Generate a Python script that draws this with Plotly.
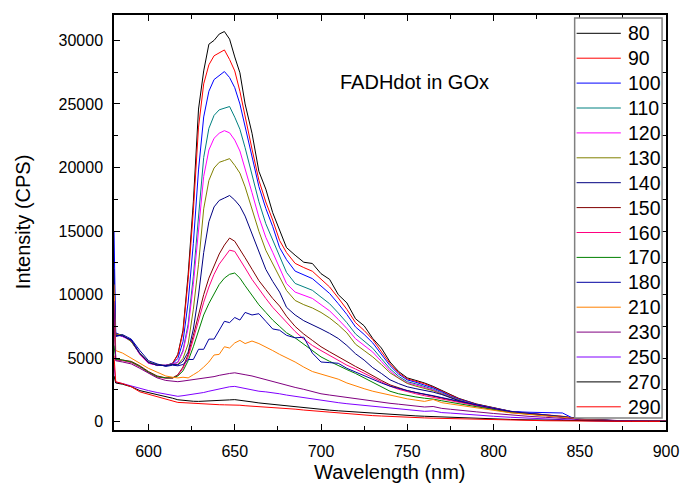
import plotly.graph_objects as go

# Emission wavelength grid (nm)
wl = [580, 581, 585, 590, 595, 600, 605, 610, 614, 617,
      620, 623, 626, 629, 632, 635, 638, 641, 644, 647,
      650, 653, 656, 660, 664, 668, 672, 676, 680, 685,
      690, 695, 700, 705, 710, 715, 720, 725, 730, 735,
      740, 745, 750, 755, 760, 765, 770, 775, 780, 790,
      800, 810, 820, 830, 840, 845, 850, 860, 870, 880,
      890, 900]

# Intensity (CPS) for each series
I_80 = [7600, 6950, 6800, 6350, 5350, 4650, 4450, 4420, 4600, 5300,
        7200, 11600, 17300, 24600, 27600, 29700, 30000, 30500, 30700, 30100,
        28700, 27450, 25000, 22700, 19700, 18300, 16450, 15000, 13700, 13100,
        12550, 12450, 11650, 11200, 10000, 9350, 8100, 7550, 6550, 5800,
        4700, 3950, 3450, 3250, 3050, 2780, 2450, 2100, 1830, 1400,
        1100, 820, 680, 560, 430, 330, 200, 130, 100, 80,
        60, 50]
I_90 = [7400, 6900, 6750, 6400, 5300, 4600, 4480, 4400, 4590, 5250,
        7050, 11200, 16600, 23180, 26580, 28080, 28790, 29020, 29250, 28500,
        27600, 25990, 24000, 21450, 19000, 17290, 15870, 14260, 13310, 12460,
        12130, 11840, 11220, 10600, 9740, 8840, 7800, 7180, 6460, 5520,
        4570, 3850, 3370, 3180, 2990, 2720, 2400, 2070, 1800, 1380,
        1090, 810, 670, 560, 430, 330, 200, 120, 90, 70,
        50, 40]
I_100 = [15000, 7000, 6700, 6450, 5400, 4700, 4420, 4450, 4560, 4980,
         6300, 9420, 14040, 19810, 23980, 26000, 26920, 27270, 27550, 27080,
         26280, 25000, 23280, 20850, 18500, 16780, 15360, 13700, 12750, 11850,
         11540, 11260, 10680, 10090, 9290, 8440, 7460, 6870, 6200, 5310,
         4410, 3740, 3290, 3100, 2910, 2660, 2360, 2030, 1770, 1360,
         1080, 810, 750, 700, 690, 350, 180, 120, 90, 70,
         60, 40]
I_110 = [7500, 6850, 6800, 6300, 5350, 4650, 4500, 4400, 4540, 4680,
         5620, 7680, 11450, 16230, 20790, 23080, 24100, 24540, 24650, 24800,
         23960, 23010, 21560, 19420, 17310, 15580, 14290, 13020, 11750, 10880,
         10590, 10340, 9810, 9280, 8560, 7790, 6910, 6380, 5780, 4970,
         4170, 3570, 3150, 2980, 2800, 2560, 2270, 1970, 1720, 1330,
         1060, 790, 660, 540, 420, 310, 190, 120, 90, 70,
         50, 40]
I_120 = [7800, 6900, 6700, 6350, 5300, 4600, 4450, 4450, 4540, 4660,
         5520, 7380, 10810, 15160, 19300, 21380, 22300, 22700, 22900, 22730,
         22160, 21300, 19970, 18020, 16090, 14510, 13330, 12160, 10870, 10200,
         9940, 9700, 9210, 8720, 8050, 7340, 6530, 6040, 5480, 4740,
         4000, 3440, 3060, 2890, 2720, 2500, 2220, 1930, 1690, 1310,
         1040, 785, 650, 540, 415, 310, 190, 120, 90, 70,
         50, 40]
I_130 = [7400, 6900, 6800, 6300, 5400, 4700, 4480, 4430, 4520, 4510,
         4980, 6120, 8850, 12390, 16750, 18980, 19960, 20410, 20550, 20700,
         20170, 19560, 18480, 16740, 14980, 13490, 12410, 11380, 10330, 9540,
         9210, 8950, 8600, 8160, 7620, 6990, 6100, 5600, 5100, 4500,
         3850, 3420, 3010, 2800, 2640, 2440, 2180, 1910, 1680, 1300,
         1030, 780, 640, 530, 410, 300, 190, 120, 85, 65,
         50, 40]
I_140 = [7600, 6800, 6750, 6400, 5350, 4650, 4450, 4420, 4500, 4480,
         4760, 5480, 7290, 9970, 13310, 15740, 16900, 17410, 17600, 17800,
         17440, 16960, 16180, 14800, 13330, 11990, 11040, 10200, 9000, 8400,
         7950, 7650, 7300, 6950, 6550, 6000, 5350, 4850, 4250, 3800,
         3300, 3000, 2750, 2600, 2480, 2330, 2140, 1890, 1650, 1280,
         1020, 770, 640, 530, 420, 310, 190, 120, 90, 70,
         50, 40]
I_150 = [8500, 4950, 4850, 4750, 4400, 3950, 3600, 3450, 3450, 3700,
         4300, 5300, 6800, 8500, 10000, 11300, 12300, 13200, 13900, 14450,
         14200, 13600, 12900, 12000, 11100, 10400, 9700, 9100, 8300, 7500,
         6900, 6400, 5900, 5500, 5100, 4700, 4350, 4000, 3600, 3250,
         2900, 2650, 2450, 2300, 2150, 2000, 1850, 1700, 1550, 1250,
         1000, 760, 630, 520, 410, 300, 180, 110, 80, 60,
         50, 40]
I_160 = [9300, 4850, 4800, 4650, 4300, 3850, 3520, 3420, 3430, 3650,
         4200, 5100, 6500, 8000, 9400, 10600, 11600, 12400, 13000, 13500,
         13400, 12800, 12100, 11200, 10400, 9700, 9000, 8400, 7800, 7100,
         6500, 6000, 5600, 5200, 4850, 4450, 4150, 3800, 3450, 3100,
         2800, 2550, 2350, 2200, 2050, 1920, 1780, 1640, 1500, 1220,
         980, 750, 620, 510, 400, 300, 180, 110, 80, 60,
         50, 40]
I_170 = [6000, 4900, 4850, 4700, 4350, 3900, 3550, 3450, 3450, 3600,
         4000, 4800, 5900, 7200, 8400, 9300, 10100, 10800, 11300, 11600,
         11700, 11300, 10700, 9900, 9200, 8600, 8000, 7500, 7000, 6600,
         6100, 5600, 5100, 4750, 4400, 4100, 3800, 3450, 3100, 2750,
         2400, 2200, 2050, 1950, 1850, 1780, 1650, 1530, 1400, 1150,
         930, 720, 600, 500, 390, 290, 180, 110, 80, 60,
         50, 40]
I_180 = [12000, 6700, 6850, 6500, 5600, 4800, 4550, 4350, 4450, 4400,
         4500, 4900, 4900, 5700, 5700, 6500, 6500, 7200, 7900, 7800,
         8200, 8000, 8600, 8400, 8500, 7900, 7300, 7200, 6800, 6600,
         6650, 5400, 4700, 4650, 4600, 4200, 3900, 3600, 3300, 3050,
         2800, 2600, 2450, 2300, 2200, 2050, 1900, 1750, 1600, 1300,
         1050, 800, 660, 540, 420, 310, 190, 110, 80, 60,
         50, 40]
I_210 = [10800, 5600, 5400, 5000, 4600, 4200, 3900, 3600, 3500, 3450,
         3500, 3450, 3700, 3950, 4300, 4700, 5250, 5300, 5900, 5800,
         6200, 6400, 6150, 6350, 6150, 5900, 5600, 5300, 5050, 4700,
         4300, 3950, 3750, 3550, 3350, 3050, 2800, 2600, 2400, 2250,
         2050, 1900, 1800, 1700, 1600, 1750, 1500, 1400, 1300, 1100,
         900, 700, 580, 480, 380, 290, 180, 110, 80, 60,
         50, 40]
I_230 = [9500, 4800, 4700, 4550, 4200, 3800, 3450, 3250, 3180, 3150,
         3200, 3250, 3300, 3350, 3400, 3450, 3550, 3650, 3750, 3800,
         3850, 3800, 3700, 3600, 3450, 3300, 3200, 3050, 2900, 2700,
         2550, 2350, 2200, 2100, 2000, 1900, 1800, 1700, 1620, 1530,
         1450, 1380, 1300, 1230, 1160, 1200, 1050, 980, 900, 780,
         650, 520, 430, 350, 280, 220, 150, 100, 70, 60,
         50, 40]
I_250 = [4500, 3100, 3000, 2800, 2600, 2450, 2300, 2150, 2050, 2000,
         2050, 2100, 2150, 2200, 2300, 2400, 2500, 2600, 2700, 2750,
         2780, 2700, 2600, 2500, 2400, 2350, 2300, 2200, 2100, 2000,
         1900, 1750, 1650, 1580, 1500, 1420, 1350, 1280, 1200, 1130,
         1060, 1000, 940, 880, 820, 850, 720, 680, 620, 520,
         430, 350, 280, 220, 170, 130, 100, 70, 50, 40,
         30, 30]
I_270 = [3600, 3050, 2950, 2750, 2450, 2300, 2150, 2000, 1850, 1730,
         1680, 1640, 1610, 1600, 1610, 1620, 1650, 1680, 1700, 1720,
         1740, 1700, 1640, 1560, 1480, 1420, 1370, 1300, 1230, 1150,
         1080, 1020, 960, 910, 860, 810, 750, 700, 660, 620,
         580, 540, 500, 460, 430, 400, 370, 340, 310, 260,
         220, 180, 150, 120, 100, 90, 80, 60, 50, 40,
         40, 30]
I_290 = [5200, 3150, 3000, 2750, 2350, 2150, 1950, 1800, 1600, 1520,
         1500, 1470, 1440, 1410, 1400, 1380, 1360, 1340, 1330, 1340,
         1340, 1300, 1260, 1230, 1200, 1170, 1130, 1090, 1050, 990,
         920, 860, 800, 750, 700, 650, 560, 520, 480, 450,
         410, 380, 350, 320, 300, 280, 260, 240, 220, 180,
         150, 120, 100, 80, 70, 60, 50, 40, 40, 30,
         30, 30]

labels = ["80", "90", "100", "110", "120", "130", "140", "150",
          "160", "170", "180", "210", "230", "250", "270", "290"]
series = [I_80, I_90, I_100, I_110, I_120, I_130, I_140, I_150,
          I_160, I_170, I_180, I_210, I_230, I_250, I_270, I_290]
colors = ["#000000", "#FF0000", "#0000FF", "#008080", "#FF00FF", "#808000",
          "#000080", "#800000", "#FF0080", "#008000", "#0000A0", "#FF8000",
          "#800080", "#8000FF", "#000000", "#FF0000"]

FONT = "Arial, Liberation Sans, sans-serif"

# Plot-area geometry in pixels, used to place the key box in paper units
W, H = 691, 489
ML, MR, MT, MB = 114, 15, 15, 59
PW, PH = W - ML - MR, H - MT - MB


def px_x(px):
    return (px - ML) / PW


def px_y(py):
    return (H - MB - py) / PH


fig = go.Figure()
for name, ys, col in zip(labels, series, colors):
    fig.add_trace(go.Scatter(x=wl, y=ys, mode="lines", name=name,
                             line=dict(color=col, width=1), showlegend=False))

axis_common = dict(
    showline=True, linecolor="black", linewidth=1.5, mirror="allticks",
    ticks="inside", ticklen=6, tickwidth=1, tickcolor="black",
    showgrid=False, zeroline=False,
    tickfont=dict(family=FONT, size=16, color="black"),
    ticklabelstandoff=6,
)

fig.update_xaxes(range=[580, 900], dtick=50, tick0=600,
                 minor=dict(dtick=25, ticks="inside", ticklen=4,
                            tickcolor="black", showgrid=False),
                 **axis_common)
fig.update_yaxes(range=[-650, 32000], dtick=5000, tick0=0, tickformat="d",
                 minor=dict(dtick=2500, ticks="inside", ticklen=4,
                            tickcolor="black", showgrid=False),
                 **axis_common)

# Key: framed box with a line sample and label per series
shapes = [dict(type="rect", xref="paper", yref="paper",
               x0=px_x(583), x1=px_x(672), y0=px_y(418), y1=px_y(18),
               line=dict(color="#808080", width=1.5), fillcolor="white",
               layer="above")]
annotations = []
for i, (name, col) in enumerate(zip(labels, colors)):
    yc = px_y(33.3 + i * 24.9)
    shapes.append(dict(type="line", xref="paper", yref="paper",
                       x0=px_x(585), x1=px_x(630), y0=yc, y1=yc,
                       line=dict(color=col, width=1), layer="above"))
    annotations.append(dict(text=name, x=px_x(635), y=yc, xref="paper",
                            yref="paper", xanchor="left", yanchor="middle",
                            showarrow=False,
                            font=dict(family=FONT, size=19.5, color="black")))

annotations += [
    dict(text="FADHdot in GOx", x=px_x(420), y=px_y(82), xref="paper",
         yref="paper", xanchor="center", yanchor="middle", showarrow=False,
         font=dict(family=FONT, size=20, color="black")),
    dict(text="Wavelength (nm)", x=0.5, y=px_y(472), xref="paper", yref="paper",
         xanchor="center", yanchor="middle", showarrow=False,
         font=dict(family=FONT, size=20, color="black")),
    dict(text="Intensity (CPS)", x=px_x(21), y=0.5, xref="paper", yref="paper",
         xanchor="center", yanchor="middle", showarrow=False, textangle=-90,
         font=dict(family=FONT, size=20, color="black")),
]

fig.update_layout(
    width=W, height=H,
    margin=dict(l=ML, r=MR, t=MT, b=MB),
    paper_bgcolor="white", plot_bgcolor="white",
    showlegend=False,
    shapes=shapes,
    annotations=annotations,
)

fig.write_html("out.html")
